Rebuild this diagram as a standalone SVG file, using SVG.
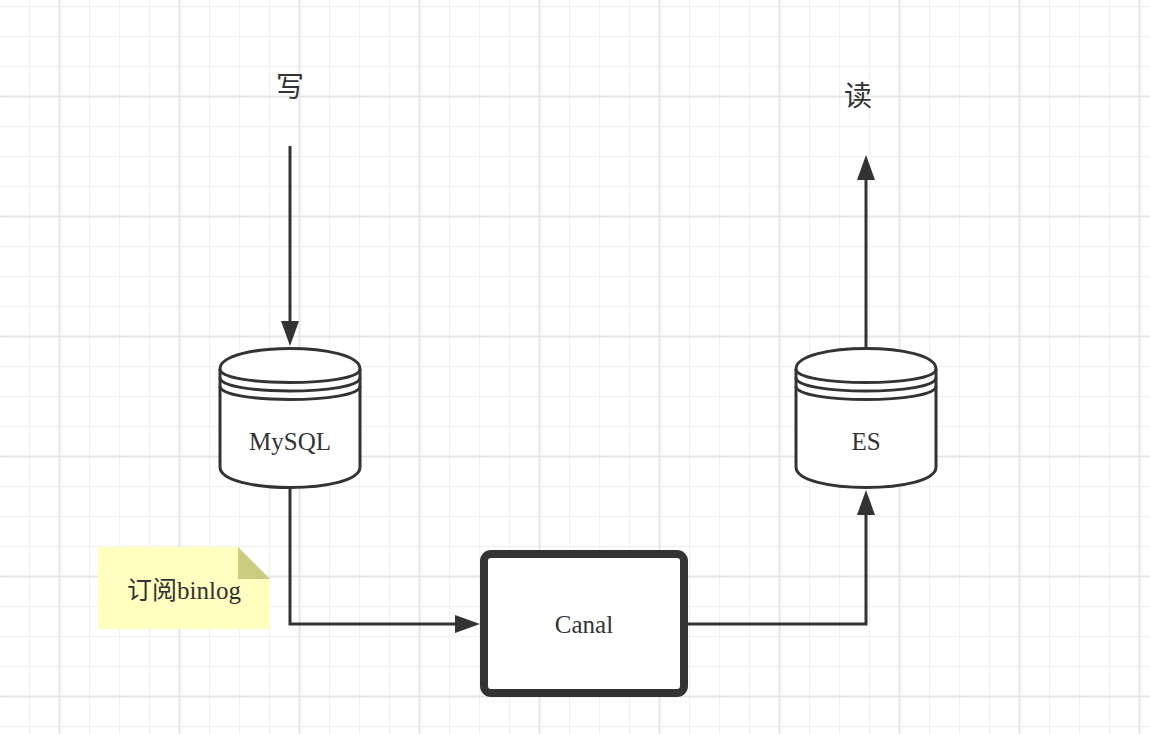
<svg xmlns="http://www.w3.org/2000/svg" width="1150" height="734" viewBox="0 0 1150 734">
  <defs>
    <pattern id="minor" patternUnits="userSpaceOnUse" x="29" y="6" width="30" height="30">
      <rect x="0" y="0" width="1.2" height="30" fill="#f1f1f1"/>
      <rect x="0" y="0" width="30" height="1.2" fill="#f1f1f1"/>
    </pattern>
    <pattern id="major" patternUnits="userSpaceOnUse" x="58.5" y="95.5" width="120" height="120">
      <rect x="0" y="0" width="2" height="120" fill="#e6e6e6"/>
      <rect x="0" y="0" width="120" height="2" fill="#e6e6e6"/>
    </pattern>
    <style>
      .edge { fill: none; stroke: #333333; stroke-width: 3; }
      .head { fill: #333333; stroke: none; }
      .db { fill: #ffffff; stroke: #333333; stroke-width: 3; }
      .dbline { fill: none; stroke: #333333; stroke-width: 3; }
      .lbl { font-family: "Liberation Serif", "Noto Sans CJK SC", serif; font-size: 25px; fill: #333333; text-anchor: middle; dominant-baseline: central; }
      .big { font-family: "Liberation Serif", "Noto Sans CJK SC", serif; font-size: 28px; fill: #333333; text-anchor: middle; dominant-baseline: central; }
    </style>
  </defs>
  <rect width="1150" height="734" fill="#ffffff"/>
  <rect width="1150" height="734" fill="url(#minor)"/>
  <rect width="1150" height="734" fill="url(#major)"/>

  <g id="connectors">
    <path class="edge" d="M290 146 V322"/>
    <polygon class="head" points="281,321 299,321 290,346"/>
    <path class="edge" d="M866 348 V178"/>
    <polygon class="head" points="857,180 875,180 866,155"/>
    <path class="edge" d="M290 488 V624 H457"/>
    <polygon class="head" points="455,615 455,633 480,624"/>
    <path class="edge" d="M688 624 H866 V513"/>
    <polygon class="head" points="857,515 875,515 866,490"/>
  </g>

  <g id="write-label">
    <text class="big" x="290" y="87">写</text>
  </g>
  <g id="read-label">
    <text class="big" x="858" y="96">读</text>
  </g>

  <g id="mysql">
    <path class="db" d="M220 369 C220 341.7 360 341.7 360 369 V467 C360 494.3 220 494.3 220 467 Z"/>
    <path class="dbline" d="M220 369 C220 387 360 387 360 369 M220 377.5 C220 395.5 360 395.5 360 377.5 M220 386 C220 404 360 404 360 386"/>
    <text class="lbl" x="290" y="441">MySQL</text>
  </g>

  <g id="es">
    <path class="db" d="M796 369 C796 341.7 936 341.7 936 369 V467 C936 494.3 796 494.3 796 467 Z"/>
    <path class="dbline" d="M796 369 C796 387 936 387 936 369 M796 377.5 C796 395.5 936 395.5 936 377.5 M796 386 C796 404 936 404 936 386"/>
    <text class="lbl" x="866" y="441">ES</text>
  </g>

  <g id="canal">
    <rect x="484" y="554" width="200" height="139" rx="7" ry="7" fill="#ffffff" stroke="#333333" stroke-width="8"/>
    <text class="lbl" x="584" y="624">Canal</text>
  </g>

  <g id="note">
    <path d="M98 547 H238 L270 579 V629 H98 Z" fill="#ffffc0"/>
    <path d="M238 547 L270 579 H238 Z" fill="#cccc80"/>
    <text class="lbl" x="184" y="590">订阅binlog</text>
  </g>
</svg>
